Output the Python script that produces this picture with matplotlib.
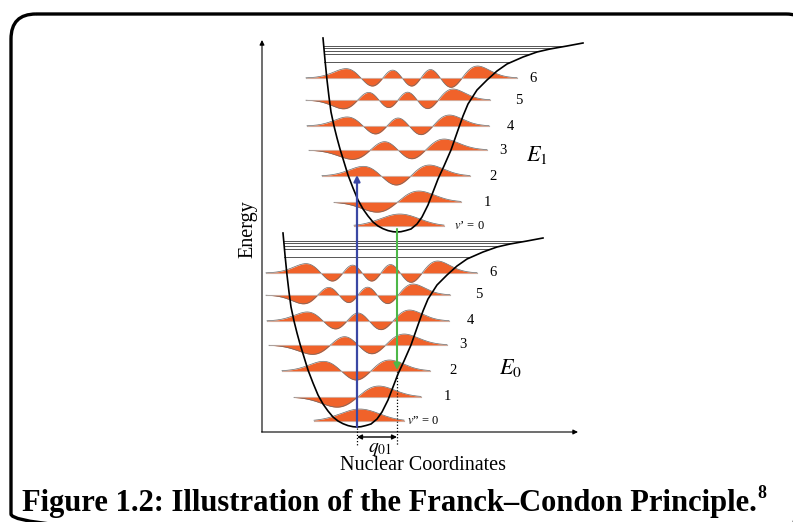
import numpy as np
import matplotlib.pyplot as plt
from matplotlib.patches import FancyBboxPatch
from numpy.polynomial.hermite import hermval

plt.rcParams["font.family"] = ["Liberation Serif", "DejaVu Serif"]
plt.rcParams["mathtext.fontset"] = "stix"

W, H = 793, 522

# potential well outline: offset from the minimum (px right) and height above it (px)
well_dx = [-74, -72, -70, -68, -66, -63, -60, -57, -53, -49, -44, -39, -34, -29, -24, -19,
           -14, -9, -4, 0, 4, 9, 14, 20, 25, 31, 36, 41, 47, 54, 61, 66, 71, 80, 90, 100,
           110, 126, 140, 153, 170, 186]
well_h = [194, 172, 152, 135, 120, 106, 94, 83, 70, 57, 44, 32, 23, 16, 10, 6,
          3.3, 1.4, 0.3, 0, 0.3, 1.5, 3, 8, 15, 27, 40, 53, 66, 82, 102, 116, 128, 142, 152, 161,
          168, 175, 180, 183, 186, 189]

# dissociation continuum lines (height, left end, right end)
cont_h = [186, 184, 181, 178, 170]
cont_left = [-73, -73, -73, -73, -73]
cont_right = [166, 153, 143, 133, 112]

# vibrational levels v = 0..6
level_h = [6, 30, 56, 82, 106, 132, 154]
level_left = [-43, -63, -75, -88, -90, -91, -91]
level_right = [47, 64, 73, 90, 92, 93, 120]
level_amp = [12, 11, 11, 11, 11, 11, 12]
label_dx = [None, 90, 96, 106, 113, 122, 136]
level_labels = ["0", "1", "2", "3", "4", "5", "6"]

# the two electronic states (position of each well minimum)
lower_min = (357, 427)
upper_min = (397, 232)
E0_pos = (510, 368)
E1_pos = (537, 155)

ORANGE = "#F0622A"
BLUE = "#3A47A4"
GREEN = "#4DB848"


def draw_state(ax, xm, ym, zero_text, zero_dx):
    for n in range(7):
        xl = xm + level_left[n]
        xr = xm + level_right[n]
        yb = ym - level_h[n]
        xs = np.linspace(xl, xr, 400)
        L = np.sqrt(2 * n + 1) + 1.3
        xc = (xl + xr) / 2
        xi = (xs - xc) / ((xr - xl) / 2) * L
        c = np.zeros(n + 1)
        c[n] = 1
        psi = hermval(xi, c) * np.exp(-xi ** 2 / 2) * np.exp(0.04 * xi)
        psi /= np.abs(psi).max()
        yy = yb - level_amp[n] * psi
        ax.plot([xl, xr], [yb, yb], color="#9a9a9a", lw=0.8, zorder=1)
        ax.fill_between(xs, yb, yy, color=ORANGE, lw=0, zorder=2)
        ax.plot(xs, yy, color="#6a6a6a", lw=0.5, zorder=3)
        ax.plot([xl, xr], [yb, yb], color="white", lw=0.4, alpha=0.6, zorder=3)
        if n == 0:
            ax.text(xm + zero_dx, yb, zero_text, fontsize=9, ha="left", va="center")
        else:
            ax.text(xm + label_dx[n], yb, level_labels[n], fontsize=10.5,
                    ha="center", va="center")

    for h, a, b in zip(cont_h, cont_left, cont_right):
        ax.plot([xm + a, xm + b], [ym - h, ym - h], color="#555555", lw=0.7, zorder=1)

    ax.plot(xm + np.array(well_dx), ym - np.array(well_h), color="black", lw=1.2, zorder=4)


fig = plt.figure(figsize=(W / 100, H / 100), dpi=100)
ax = fig.add_axes([0, 0, 1, 1])
ax.set_xlim(0, W)
ax.set_ylim(H, 0)
ax.axis("off")

# rounded frame, cut by the right and bottom edges of the image
ax.add_patch(FancyBboxPatch((11, 14), 800, 525, boxstyle="round,pad=0,rounding_size=25",
                            fill=False, lw=2.4, ec="black", zorder=0))

# axes
ax.annotate("", xy=(262, 40), xytext=(262, 432),
            arrowprops=dict(arrowstyle="-|>", lw=0.8, color="black",
                            mutation_scale=7, shrinkA=0, shrinkB=0))
ax.annotate("", xy=(578, 432), xytext=(261.6, 432),
            arrowprops=dict(arrowstyle="-|>", lw=0.8, color="black",
                            mutation_scale=7, shrinkA=0, shrinkB=0))
ax.text(248, 229, "Energy", rotation=90, fontsize=14.5, ha="center", va="center")
ax.text(423, 466, "Nuclear Coordinates", fontsize=14.5, ha="center", va="center")

draw_state(ax, *lower_min, "$v$\u201d = 0", 50)
draw_state(ax, *upper_min, "$v$\u2019 = 0", 57)
ax.text(*E0_pos, "$E_0$", fontsize=16, ha="center", va="center")
ax.text(*E1_pos, "$E_1$", fontsize=16, ha="center", va="center")

# absorption / emission
ax.annotate("", xy=(lower_min[0], 175), xytext=lower_min,
            arrowprops=dict(arrowstyle="-|>", lw=1.6, color=BLUE,
                            mutation_scale=9, shrinkA=0, shrinkB=0), zorder=5)
ax.annotate("", xy=(upper_min[0], 370), xytext=(upper_min[0], upper_min[1] - 3),
            arrowprops=dict(arrowstyle="-|>", lw=1.5, color=GREEN,
                            mutation_scale=9, shrinkA=0, shrinkB=0), zorder=5)

# displacement q01
ax.plot([lower_min[0], lower_min[0]], [428, 446], color="black", lw=0.9, ls=(0, (1, 1.5)))
ax.plot([upper_min[0], upper_min[0]], [371, 446], color="black", lw=0.9, ls=(0, (1, 1.5)))
ax.annotate("", xy=(upper_min[0], 437), xytext=(lower_min[0], 437),
            arrowprops=dict(arrowstyle="<|-|>", lw=1.0, color="black",
                            mutation_scale=7, shrinkA=0, shrinkB=0))
ax.text(380, 441, "$q_{01}$", fontsize=14, ha="center", va="top")

# caption
cap = ax.text(389, 511, "Figure 1.2: Illustration of the Franck\u2013Condon Principle.",
              fontsize=22, fontweight="bold", ha="center", va="baseline")
ax.annotate("8", xy=(1, 0.55), xycoords=cap, xytext=(0.5, 0), textcoords="offset points",
            fontsize=13, fontweight="bold", ha="left", va="bottom")

fig.savefig("out.png", dpi=100)
